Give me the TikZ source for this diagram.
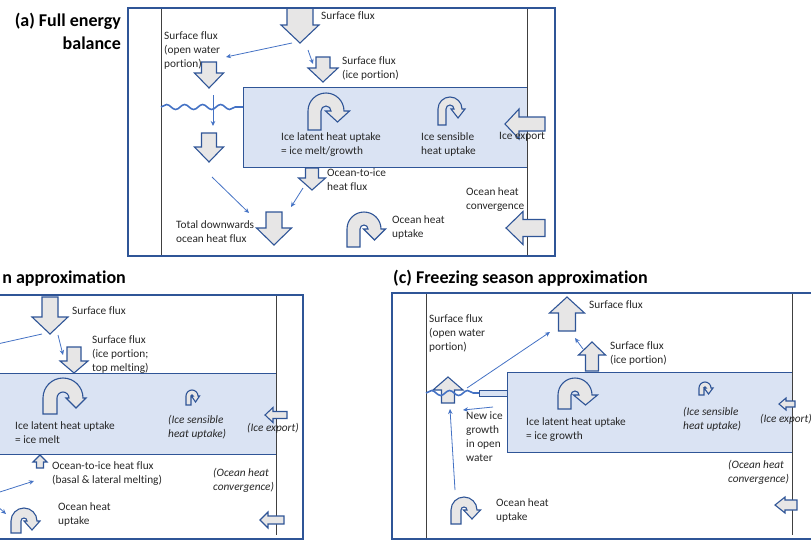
\documentclass[tikz,border=0pt]{standalone}
\usepackage{fontspec}
\setmainfont{Carlito}[Ligatures=NoCommon]
\usetikzlibrary{decorations.pathmorphing,arrows.meta}
\definecolor{framec}{HTML}{2F5597}
\definecolor{edgec}{HTML}{2F5597}
\definecolor{arrfill}{HTML}{E7E6E6}
\definecolor{icefill}{HTML}{DAE3F3}
\definecolor{thinc}{HTML}{4472C4}
\definecolor{linec}{HTML}{404040}
\definecolor{txtc}{HTML}{262626}
\newcommand{\barrow}[7]{%
  \begin{scope}[shift={#2},rotate=#3]
    \draw[blockarrow] (0,-#5/2) -- (#4-#7,-#5/2) -- (#4-#7,-#6/2) -- (#4,0) -- (#4-#7,#6/2) -- (#4-#7,#5/2) -- (0,#5/2) -- cycle;
    \coordinate (#1) at (#4/2,0);
  \end{scope}}
% #1 name, #2 x0, #3 top, #4 bottom, #5 leg width, #6 radius, #7 head width, #8 head length
\newcommand{\uturn}[8]{%
  \draw[blockarrow] (#2,#4) -- (#2,#3+#6) arc[start angle=180, end angle=360, radius=#6]
    -- (#2+2*#6-#5/2+#7/2,#3+#6) -- (#2+2*#6-#5/2,#3+#6+#8) -- (#2+2*#6-#5/2-#7/2,#3+#6)
    -- (#2+2*#6-#5,#3+#6) arc[start angle=0, end angle=-180, radius=#6-#5]
    -- (#2+#5,#4) -- cycle;
  \coordinate (#1) at (#2+#6,#3+#6);}
\begin{document}
\begin{tikzpicture}[x=1pt,y=-1pt,
  blockarrow/.style={draw=edgec, fill=arrfill, line width=1.1pt, line join=miter},
  icebox/.style={draw=edgec, fill=icefill, line width=0.9pt},
  frame/.style={draw=framec, line width=2.6pt},
  divider/.style={draw=linec, line width=0.8pt},
  wave/.style={draw=thinc, line width=1.6pt, decorate, decoration={snake, segment length=18pt, amplitude=2.5pt}},
  thin/.style={draw=thinc, line width=0.8pt, -{Stealth[length=5pt,width=4.5pt]}},
  lbl/.style={font=\fontsize{11.3}{14}\selectfont, text=txtc, inner sep=0pt, align=left, anchor=north west},
  ilbl/.style={lbl, font=\fontsize{11.3}{14}\selectfont\itshape},
  title/.style={font=\fontsize{18}{23}\selectfont\bfseries, text=black, inner sep=0pt}]
\useasboundingbox (0,0) rectangle (811,541);
\clip (0,0) rectangle (811,541);

% ================= (a) =================
\node[title, align=right, anchor=north east] (ta) at (121,13) {(a) Full energy\\balance};
\draw[icebox] (243,87) rectangle (527,167);
\draw[divider] (161,8) -- (161,256);
\draw[divider] (527,8) -- (527,256);
\draw[wave] (161,107) -- (243,107);

\barrow{a1}{(300,8)}{-90}{35}{26}{38}{18}
\barrow{a2}{(209,62)}{-90}{26}{15}{29}{15}
\barrow{a3}{(323,57)}{-90}{25}{14}{30}{14}
\barrow{a4}{(209,133)}{-90}{29}{15}{29}{15}
\barrow{a5}{(312,168)}{-90}{22}{13}{27}{12}
\barrow{a6}{(274,212)}{-90}{33}{16}{35}{17}
\barrow{a7}{(545,124)}{180}{40}{14}{30}{14}
\barrow{a8}{(545,228)}{180}{39}{17}{33}{17}
\uturn{ua1}{308}{93}{130}{13}{18}{24}{11}
\uturn{ua2}{438}{97}{125}{8}{12}{14}{9}
\uturn{ua3}{347}{212}{247}{13}{17}{22}{11}

\coordinate (ta1) at (292,43); \coordinate (ta1e) at (226,57);
\coordinate (ta2) at (308,50); \coordinate (ta2e) at (313,64);
\coordinate (ta3) at (213,95); \coordinate (ta3e) at (213,126);
\coordinate (ta4) at (212,177); \coordinate (ta4e) at (249,213);
\coordinate (ta5) at (303,188); \coordinate (ta5e) at (291,207);
\draw[thin] (ta1) -- (ta1e);
\draw[thin] (ta2) -- (ta2e);
\draw[thin] (ta3) -- (ta3e);
\draw[thin] (ta4) -- (ta4e);
\draw[thin] (ta5) -- (ta5e);

\node[lbl] (la1) at (321,11) {Surface flux};
\node[lbl] (la2) at (164,31) {Surface flux\\(open water\\portion)};
\node[lbl] (la3) at (342,56) {Surface flux\\(ice portion)};
\node[lbl] (la4) at (281,132) {Ice latent heat uptake\\= ice melt/growth};
\node[lbl] (la5) at (421,132) {Ice sensible\\heat uptake};
\node[lbl] (la6) at (499,132) {Ice export};
\node[lbl] (la7) at (327,169) {Ocean-to-ice\\heat flux};
\node[lbl] (la8) at (466,187) {Ocean heat\\convergence};
\node[lbl] (la9) at (176,220) {Total downwards\\ocean heat flux};
\node[lbl] (la10) at (392,215) {Ocean heat\\uptake};
\draw[frame] (128,8) rectangle (555,256);

% ================= (b) =================
\node[title, anchor=east] (tb) at (126,279) {n approximation};
\draw[icebox] (-10,373) rectangle (276,454);
\draw[divider] (276,295) -- (276,535);

\barrow{b1}{(50,297)}{-90}{37}{16}{36}{17}
\barrow{b2}{(74,347)}{-90}{26}{14}{28}{12}
\barrow{b3}{(40,468)}{90}{13}{7}{14}{7}
\barrow{b4}{(287,415)}{180}{22}{7}{15}{8}
\barrow{b5}{(284,520)}{180}{24}{8}{16}{8}
\uturn{ub1}{43}{378}{414}{14}{20}{20}{10}
\uturn{ub2}{186}{390}{405}{5}{6}{8}{6}
\uturn{ub3}{11}{508}{533}{10}{13}{16}{9}

\coordinate (tb1) at (42,334); \coordinate (tb1e) at (-25,349);
\coordinate (tb2) at (58,335); \coordinate (tb2e) at (63,355);
\coordinate (tb3) at (-25,500); \coordinate (tb3e) at (34,481);
\coordinate (tb4) at (-14,496); \coordinate (tb4e) at (6,514);
\draw[thin] (tb1) -- (tb1e);
\draw[thin] (tb2) -- (tb2e);
\draw[thin] (tb3) -- (tb3e);
\draw[thin] (tb4) -- (tb4e);

\node[lbl] (lb1) at (72,306) {Surface flux};
\node[lbl] (lb2) at (92,335) {Surface flux\\(ice portion;\\top melting)};
\node[lbl] (lb3) at (15,421) {Ice latent heat uptake\\= ice melt};
\node[ilbl] (lb4) at (168,415) {(Ice sensible\\heat uptake)};
\node[ilbl] (lb5) at (247,423) {(Ice export)};
\node[lbl] (lb6) at (52,461) {Ocean-to-ice heat flux\\(basal \& lateral melting)};
\node[ilbl] (lb7) at (213,468) {(Ocean heat\\convergence)};
\node[lbl] (lb8) at (58,502) {Ocean heat\\uptake};
\draw[frame] (-10,295) rectangle (303,539);

% ================= (c) =================
\node[title, anchor=west] (tc) at (393,278) {(c) Freezing season approximation};
\draw[icebox] (507,372) rectangle (792,452);
\draw[icebox] (479,390) rectangle (507,396);
\draw[divider] (426,293) -- (426,539);
\draw[divider] (792,293) -- (792,535);

\barrow{c1}{(567,331)}{90}{34}{17}{35}{16}
\barrow{c2}{(592,371)}{90}{29}{13}{27}{13}
\barrow{c3}{(448,403)}{90}{26}{13}{30}{13}
\barrow{c4}{(795,404)}{180}{16}{6}{12}{7}
\barrow{c5}{(797,505)}{180}{22}{10}{16}{10}
\uturn{uc1}{558}{378}{409}{13}{17}{24}{10}
\uturn{uc2}{699}{382}{395}{5}{6}{9}{6}
\uturn{uc3}{451}{497}{524}{10}{13}{17}{9}
\draw[wave] (426,393) -- (479,393);

\coordinate (tc1) at (467,388); \coordinate (tc1e) at (550,332);
\coordinate (tc2) at (583,349); \coordinate (tc2e) at (575,338);
\coordinate (tc3) at (493,407); \coordinate (tc3e) at (463,410);
\coordinate (tc4) at (455,490); \coordinate (tc4e) at (450,409);
\draw[thin] (tc1) -- (tc1e);
\draw[thin] (tc2) -- (tc2e);
\draw[thin] (tc3) -- (tc3e);
\draw[thin] (tc4) -- (tc4e);

\node[lbl] (lc1) at (589,300) {Surface flux};
\node[lbl] (lc2) at (610,341) {Surface flux\\(ice portion)};
\node[lbl] (lc3) at (429,314) {Surface flux\\(open water\\portion)};
\node[lbl] (lc4) at (466,412) {New ice\\growth\\in open\\water};
\node[lbl] (lc5) at (526,417) {Ice latent heat uptake\\= ice growth};
\node[ilbl] (lc6) at (683,407) {(Ice sensible\\heat uptake)};
\node[ilbl] (lc7) at (760,414) {(Ice export)};
\node[ilbl] (lc8) at (728,460) {(Ocean heat\\convergence)};
\node[lbl] (lc9) at (496,498) {Ocean heat\\uptake};
\draw[frame] (392,293) rectangle (830,539);
\end{tikzpicture}
\end{document}
